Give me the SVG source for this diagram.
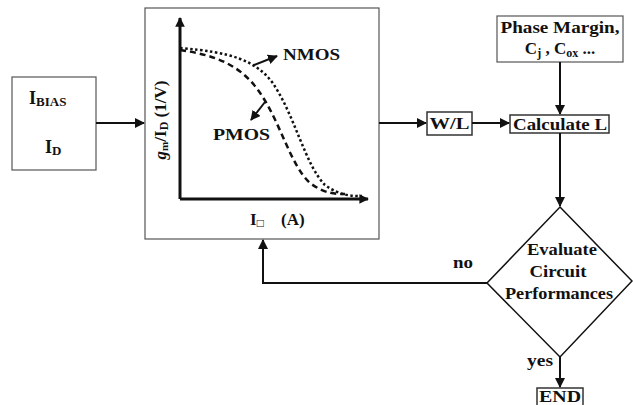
<svg xmlns="http://www.w3.org/2000/svg" width="633" height="405" viewBox="0 0 633 405">
<style>
text{font-family:"Liberation Serif","DejaVu Serif",serif;font-weight:bold;fill:#111}
.box{fill:#fff;stroke:#555;stroke-width:1.2}
.sbox{fill:#fff;stroke:#333;stroke-width:1.5}
.ln{fill:none;stroke:#111;stroke-width:2}
.ax{fill:none;stroke:#111;stroke-width:3}
.t{font-size:17px}
</style>
<defs>
<marker id="ah" viewBox="0 0 10 10" refX="9" refY="5" markerWidth="5" markerHeight="5" orient="auto"><path d="M0,0 L10,5 L0,10 z" fill="#111"/></marker>
<marker id="ahb" viewBox="0 0 10 10" refX="9" refY="5" markerWidth="3.2" markerHeight="3.2" orient="auto"><path d="M0,0 L10,5 L0,10 z" fill="#111"/></marker>
</defs>
<rect width="633" height="405" fill="#fff"/>
<g id="bias">
<rect class="box" x="12" y="77" width="84" height="93"/>
<text x="29" y="104" font-size="18">I<tspan font-size="13" dy="2">BIAS</tspan></text>
<text x="45" y="153" font-size="18">I<tspan font-size="13" dy="2">D</tspan></text>
</g>
<g id="chart">
<rect class="box" x="145" y="8" width="234" height="231"/>
<path class="ax" d="M180,199 L180,18" marker-end="url(#ahb)"/>
<path class="ax" d="M180,199 L368,199" marker-end="url(#ahb)"/>
<path d="M180,48 C230,52 255,60 272,82 C295,115 305,165 325,185 C340,196 352,196 362,196" fill="none" stroke="#111" stroke-width="2.5" stroke-dasharray="2.5,2.5"/>
<path d="M180,50 C215,55 240,65 258,90 C280,120 290,165 310,183 C325,194 335,194 345,194" fill="none" stroke="#111" stroke-width="2.5" stroke-dasharray="6,4"/>
<text x="283" y="60" class="t" textLength="57" lengthAdjust="spacingAndGlyphs">NMOS</text>
<path class="ln" d="M254,65 L277,56" stroke-width="1.5" marker-end="url(#ah)"/>
<text x="213" y="140" class="t" textLength="57" lengthAdjust="spacingAndGlyphs">PMOS</text>
<path class="ln" d="M265,102 L251,120" stroke-width="1.5" marker-end="url(#ah)"/>
<text transform="translate(166,120) rotate(-90)" text-anchor="middle" font-size="17"><tspan font-style="italic">g</tspan><tspan font-size="11" dy="2">m</tspan><tspan dy="-2">/I</tspan><tspan font-size="12" dy="2">D</tspan><tspan dy="-2"> (1/V)</tspan></text>
<text x="250" y="225" class="t">I<tspan font-size="12" dy="2">□</tspan></text>
<text x="281" y="225" class="t">(A)</text>
</g>
<g id="wl">
<rect class="sbox" x="427" y="112" width="45" height="23"/>
<text x="449.5" y="129" text-anchor="middle" class="t" textLength="40" lengthAdjust="spacingAndGlyphs">W/L</text>
</g>
<g id="calc">
<rect class="sbox" x="510" y="115" width="99" height="18"/>
<text x="560" y="130" text-anchor="middle" class="t" textLength="94" lengthAdjust="spacingAndGlyphs">Calculate L</text>
</g>
<g id="phase">
<rect class="box" x="497" y="16" width="126" height="46"/>
<text x="560" y="33" text-anchor="middle" class="t" textLength="119" lengthAdjust="spacingAndGlyphs">Phase Margin,</text>
<text x="560" y="54" text-anchor="middle" class="t">C<tspan font-size="12" dy="3">j</tspan><tspan dy="-3"> , C</tspan><tspan font-size="12" dy="3">ox</tspan><tspan dy="-3"> ...</tspan></text>
</g>
<g id="eval">
<path d="M560,207 L632,281 L560,357 L487,283 Z" fill="#fff" stroke="#111" stroke-width="1.5"/>
<text x="562" y="255" text-anchor="middle" class="t" textLength="70" lengthAdjust="spacingAndGlyphs">Evaluate</text>
<text x="558" y="277" text-anchor="middle" class="t" textLength="57" lengthAdjust="spacingAndGlyphs">Circuit</text>
<text x="559" y="299" text-anchor="middle" class="t" textLength="108" lengthAdjust="spacingAndGlyphs">Performances</text>
</g>
<g id="end">
<rect class="sbox" x="537" y="388" width="46" height="20"/>
<text x="560" y="402" text-anchor="middle" font-size="16" textLength="42" lengthAdjust="spacingAndGlyphs">END</text>
</g>
<g id="connectors">
<path class="ln" d="M96,123 L144,123" marker-end="url(#ah)"/>
<path class="ln" d="M379,123 L426,123" marker-end="url(#ah)"/>
<path class="ln" d="M472,123 L509,123" marker-end="url(#ah)"/>
<path class="ln" d="M560,62 L560,114" marker-end="url(#ah)"/>
<path class="ln" d="M560,133 L560,206" marker-end="url(#ah)"/>
<path class="ln" d="M487,283 L263,283 L263,240" marker-end="url(#ah)"/>
<path class="ln" d="M560,357 L560,387" marker-end="url(#ah)"/>
<text x="453" y="268" class="t" textLength="20" lengthAdjust="spacingAndGlyphs">no</text>
<text x="527" y="366" class="t" textLength="26" lengthAdjust="spacingAndGlyphs">yes</text>
</g>
</svg>
